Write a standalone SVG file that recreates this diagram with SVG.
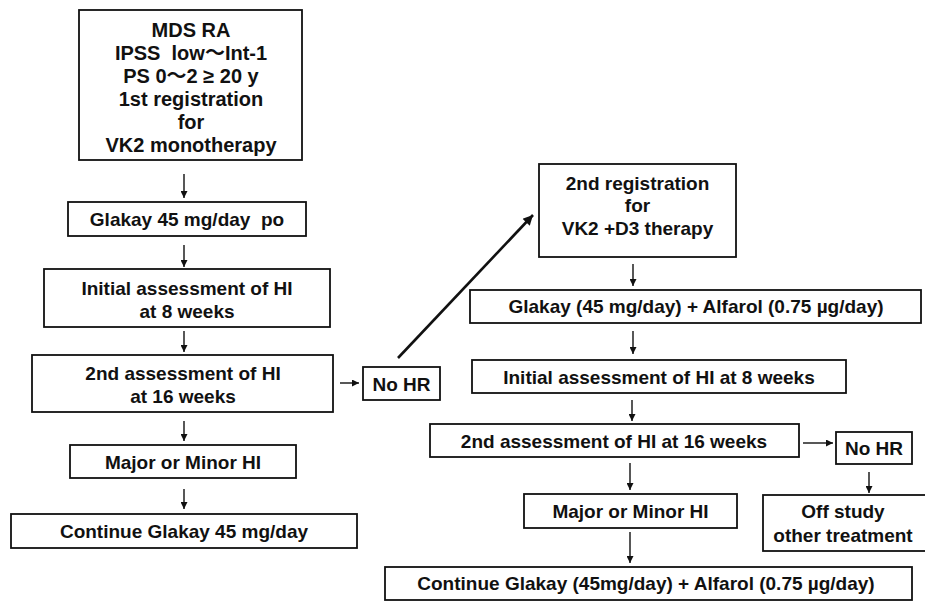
<svg xmlns="http://www.w3.org/2000/svg" width="925" height="602" viewBox="0 0 925 602">
<defs>
<style>
.box{fill:#fff;stroke:#111;stroke-width:1.8}
.t{font-family:"Liberation Sans",Arial,"Noto Sans CJK JP",sans-serif;font-weight:bold;font-size:19px;fill:#111;text-anchor:middle}
.t20{font-size:20px}
.c{stroke:#111;stroke-width:1.4;fill:none;marker-end:url(#ah)}
.d{stroke:#111;stroke-width:2.6;fill:none;marker-end:url(#ah2)}
</style>
<marker id="ah" viewBox="0 0 10 10" refX="10" refY="5" markerWidth="8" markerHeight="7" markerUnits="userSpaceOnUse" orient="auto">
<path d="M0,0 L10,5 L0,10 z" fill="#111"/>
</marker>
<marker id="ah2" viewBox="0 0 10 10" refX="10" refY="5" markerWidth="12" markerHeight="10" markerUnits="userSpaceOnUse" orient="auto">
<path d="M0,0 L10,5 L0,10 z" fill="#111"/>
</marker>
</defs>
<rect width="925" height="602" fill="#fff"/>

<g id="connectors">
<line class="c" x1="184" y1="174" x2="184" y2="198"/>
<line class="c" x1="184" y1="245" x2="184" y2="267"/>
<line class="c" x1="184" y1="331" x2="184" y2="352"/>
<line class="c" x1="184" y1="421" x2="184" y2="441"/>
<line class="c" x1="184" y1="489" x2="184" y2="509"/>
<line class="c" x1="340" y1="383" x2="359" y2="383"/>
<line class="d" x1="398" y1="358" x2="533" y2="215"/>
<line class="c" x1="633" y1="264" x2="633" y2="286"/>
<line class="c" x1="633" y1="331" x2="633" y2="354"/>
<line class="c" x1="632" y1="400" x2="632" y2="421"/>
<line class="c" x1="630" y1="463" x2="630" y2="490"/>
<line class="c" x1="630" y1="532" x2="630" y2="563"/>
<line class="c" x1="803" y1="443" x2="833" y2="443"/>
<line class="c" x1="869" y1="472" x2="869" y2="493"/>
</g>

<g id="n1">
<rect class="box" x="79" y="10" width="223" height="150"/>
<text class="t t20" x="191" y="37">MDS RA</text>
<text class="t t20" x="191" y="60" xml:space="preserve">IPSS  low～Int-1</text>
<text class="t t20" x="191" y="83">PS 0～2 ≥ 20 y</text>
<text class="t t20" x="191" y="106">1st registration</text>
<text class="t t20" x="191" y="129">for</text>
<text class="t t20" x="191" y="152">VK2 monotherapy</text>
</g>

<g id="n2">
<rect class="box" x="68" y="202" width="238" height="34"/>
<text class="t" x="187" y="226" xml:space="preserve">Glakay 45 mg/day  po</text>
</g>

<g id="n3">
<rect class="box" x="44" y="269" width="286" height="58"/>
<text class="t" x="187" y="295">Initial assessment of HI</text>
<text class="t" x="187" y="318">at 8 weeks</text>
</g>

<g id="n4">
<rect class="box" x="32" y="355" width="301" height="57"/>
<text class="t" x="183" y="380">2nd assessment of HI</text>
<text class="t" x="183" y="403">at 16 weeks</text>
</g>

<g id="n5">
<rect class="box" x="70" y="445" width="226" height="33"/>
<text class="t" x="183" y="469">Major or Minor HI</text>
</g>

<g id="n6">
<rect class="box" x="11" y="514" width="346" height="34"/>
<text class="t" x="184" y="538">Continue Glakay 45 mg/day</text>
</g>

<g id="n7">
<rect class="box" x="363" y="367" width="77" height="33"/>
<text class="t" x="401.5" y="391">No HR</text>
</g>

<g id="n8">
<rect class="box" x="539" y="164" width="197" height="93"/>
<text class="t" x="637.5" y="190">2nd registration</text>
<text class="t" x="637.5" y="212">for</text>
<text class="t" x="637.5" y="235">VK2 +D3 therapy</text>
</g>

<g id="n9">
<rect class="box" x="470" y="290" width="451" height="33"/>
<text class="t" x="696" y="313">Glakay (45 mg/day) + Alfarol (0.75 µg/day)</text>
</g>

<g id="n10">
<rect class="box" x="472" y="360" width="374" height="33"/>
<text class="t" x="659" y="384">Initial assessment of HI at 8 weeks</text>
</g>

<g id="n11">
<rect class="box" x="430" y="424" width="369" height="33"/>
<text class="t" x="614" y="448">2nd assessment of HI at 16 weeks</text>
</g>

<g id="n12">
<rect class="box" x="836" y="432" width="76" height="32"/>
<text class="t" x="874" y="455">No HR</text>
</g>

<g id="n13">
<rect class="box" x="524" y="494" width="213" height="34"/>
<text class="t" x="630.5" y="518">Major or Minor HI</text>
</g>

<g id="n14">
<rect class="box" x="763" y="495" width="170" height="56"/>
<text class="t" x="843" y="518">Off study</text>
<text class="t" x="843" y="542">other treatment</text>
</g>

<g id="n15">
<rect class="box" x="385" y="567" width="527" height="33"/>
<text class="t" x="646" y="590">Continue Glakay (45mg/day) + Alfarol (0.75 µg/day)</text>
</g>
</svg>
